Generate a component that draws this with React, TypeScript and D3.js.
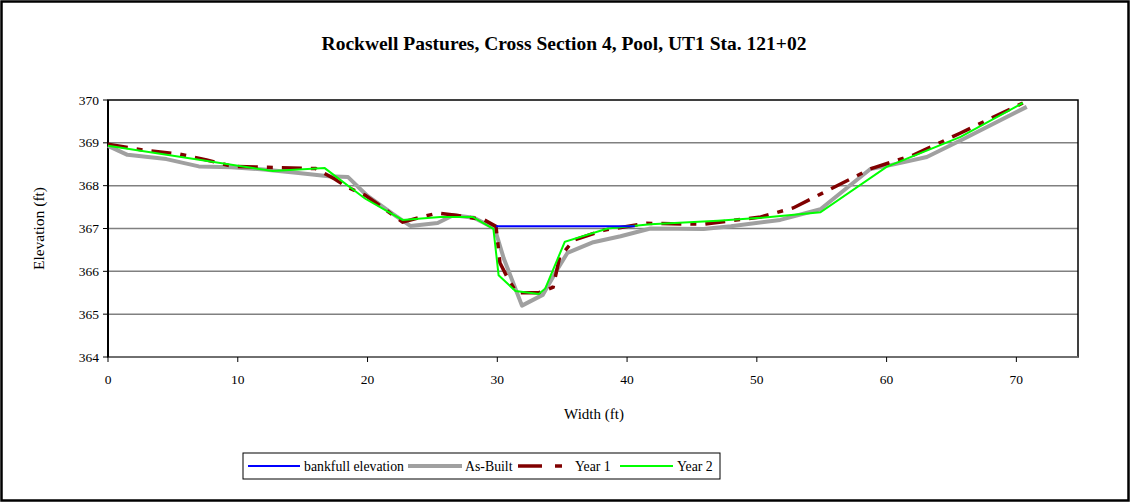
import React from "react";
import * as d3 from "d3";

const TITLE = "Rockwell Pastures, Cross Section 4, Pool, UT1 Sta. 121+02";
const xTicks = [0, 10, 20, 30, 40, 50, 60, 70];
const yTicks = [364, 365, 366, 367, 368, 369, 370];

const bankfullX = [29.9, 40.6];
const bankfullY = [367.05, 367.05];

const asBuiltX = [0, 1.5, 4.5, 7, 9.5, 12, 14.5, 17, 18.5, 20, 22, 23.3, 25.4, 26.6, 28.2, 29.8, 30.5, 31.9, 33.5, 34.6, 35.4, 37.4, 39.5, 41.8, 45.9, 48, 51.8, 54.9, 58.75, 60.3, 63.1, 66, 70.8];
const asBuiltY = [368.93, 368.72, 368.62, 368.45, 368.43, 368.38, 368.3, 368.22, 368.2, 367.76, 367.33, 367.06, 367.13, 367.31, 367.25, 367.0, 366.3, 365.2, 365.45, 366.03, 366.43, 366.68, 366.82, 367.0, 366.99, 367.05, 367.2, 367.45, 368.39, 368.48, 368.67, 369.1, 369.84];

const year1X = [0, 2.7, 5.5, 7.6, 9.6, 12.3, 16, 17.5, 18.4, 19.8, 21.2, 22.7, 23.8, 25.4, 26.8, 29, 29.9, 30.2, 30.8, 31.5, 33.2, 34.3, 34.8, 35.9, 38.2, 41.5, 45.9, 50.3, 52.8, 58.75, 62.1, 65.7, 70.5];
const year1Y = [368.97, 368.83, 368.74, 368.6, 368.45, 368.43, 368.4, 368.15, 367.97, 367.78, 367.48, 367.15, 367.24, 367.36, 367.31, 367.2, 367.05, 366.2, 365.84, 365.5, 365.5, 365.63, 366.33, 366.73, 366.96, 367.12, 367.1, 367.27, 367.48, 368.39, 368.72, 369.23, 369.93];

const year2X = [0, 12.7, 16.7, 19.8, 22.7, 25.6, 28.1, 29.7, 30.1, 31.4, 33.2, 33.7, 35.2, 38.5, 41.8, 47, 50.3, 54.9, 60, 65.7, 70.5];
const year2Y = [368.93, 368.34, 368.41, 367.7, 367.2, 367.27, 367.27, 366.99, 365.91, 365.54, 365.47, 365.6, 366.69, 367.0, 367.1, 367.18, 367.25, 367.38, 368.44, 369.14, 369.93];

const W = 1130, H = 502;
const M = { left: 108, right: 1078, top: 100, bottom: 357 };

export default function App() {
  const x = d3.scaleLinear().domain([0, 74.75]).range([M.left, M.right]);
  const y = d3.scaleLinear().domain([364, 370]).range([M.bottom, M.top]);
  const line = (xs: number[], ys: number[]) =>
    d3.line<number>().x((_, i) => x(xs[i])).y((v) => y(v))(ys) || "";
  const font = "'Liberation Serif', 'Times New Roman', serif";
  const legFs = 13.8;
  return (
    <svg width={W} height={H} style={{ position: "absolute", left: 0, top: 0, background: "#fff" }} fontFamily={font}>
      <rect x={1.5} y={1.5} width={W - 3} height={H - 3} fill="#fff" stroke="#000" strokeWidth={2.5} />
      <text x={564} y={50} textAnchor="middle" fontSize={19.5} fontWeight="bold">{TITLE}</text>
      {/* gridlines */}
      {yTicks.slice(1, -1).map((t) => (
        <line key={t} x1={M.left} x2={M.right} y1={y(t)} y2={y(t)} stroke="#808080" strokeWidth={1.5} />
      ))}
      {/* plot border */}
      <rect x={M.left} y={M.top} width={M.right - M.left} height={M.bottom - M.top} fill="none" stroke="#000" strokeWidth={1.5} />
      <line x1={M.left} x2={M.right} y1={M.bottom} y2={M.bottom} stroke="#808080" strokeWidth={1.5} />
      <line x1={M.left} x2={M.left} y1={M.top} y2={M.bottom} stroke="#000" strokeWidth={2} />
      {/* y ticks */}
      {yTicks.map((t) => (
        <g key={t}>
          <line x1={M.left - 5} x2={M.left} y1={y(t)} y2={y(t)} stroke="#000" strokeWidth={1} />
          <text x={M.left - 9} y={y(t) + 4.5} textAnchor="end" fontSize={13.5}>{t}</text>
        </g>
      ))}
      {/* x ticks */}
      {xTicks.map((t) => (
        <g key={t}>
          <line x1={x(t)} x2={x(t)} y1={M.bottom} y2={M.bottom + 5} stroke="#000" strokeWidth={1} />
          <text x={x(t)} y={M.bottom + 27} textAnchor="middle" fontSize={13.5}>{t}</text>
        </g>
      ))}
      <text x={594} y={419} textAnchor="middle" fontSize={15}>Width (ft)</text>
      <text transform={`translate(44,${(M.top + M.bottom) / 2}) rotate(-90)`} textAnchor="middle" fontSize={15.5}>Elevation (ft)</text>
      {/* series */}
      <path d={line(asBuiltX, asBuiltY)} fill="none" stroke="#A0A0A0" strokeWidth={4} strokeLinejoin="round" />
      <path d={line(year1X, year1Y)} fill="none" stroke="#800000" strokeWidth={3.5} strokeDasharray="20,9,6,9" />
      <path d={line(year2X, year2Y)} fill="none" stroke="#00FF00" strokeWidth={2} />
      <path d={line(bankfullX, bankfullY)} fill="none" stroke="#0000FF" strokeWidth={2} />
      {/* legend */}
      <rect x={243} y={453} width={477} height={26} fill="#fff" stroke="#000" strokeWidth={1} />
      <line x1={248} x2={300} y1={466} y2={466} stroke="#0000FF" strokeWidth={2} />
      <text x={304} y={471} fontSize={legFs}>bankfull elevation</text>
      <line x1={408} x2={462} y1={466} y2={466} stroke="#A0A0A0" strokeWidth={4} />
      <text x={465} y={471} fontSize={legFs}>As-Built</text>
      <line x1={518} x2={542} y1={466} y2={466} stroke="#800000" strokeWidth={3.5} />
      <line x1={555} x2={562} y1={466} y2={466} stroke="#800000" strokeWidth={3.5} />
      <text x={575} y={471} fontSize={legFs}>Year 1</text>
      <line x1={620} x2={673} y1={466} y2={466} stroke="#00FF00" strokeWidth={2} />
      <text x={677} y={471} fontSize={legFs}>Year 2</text>
    </svg>
  );
}
